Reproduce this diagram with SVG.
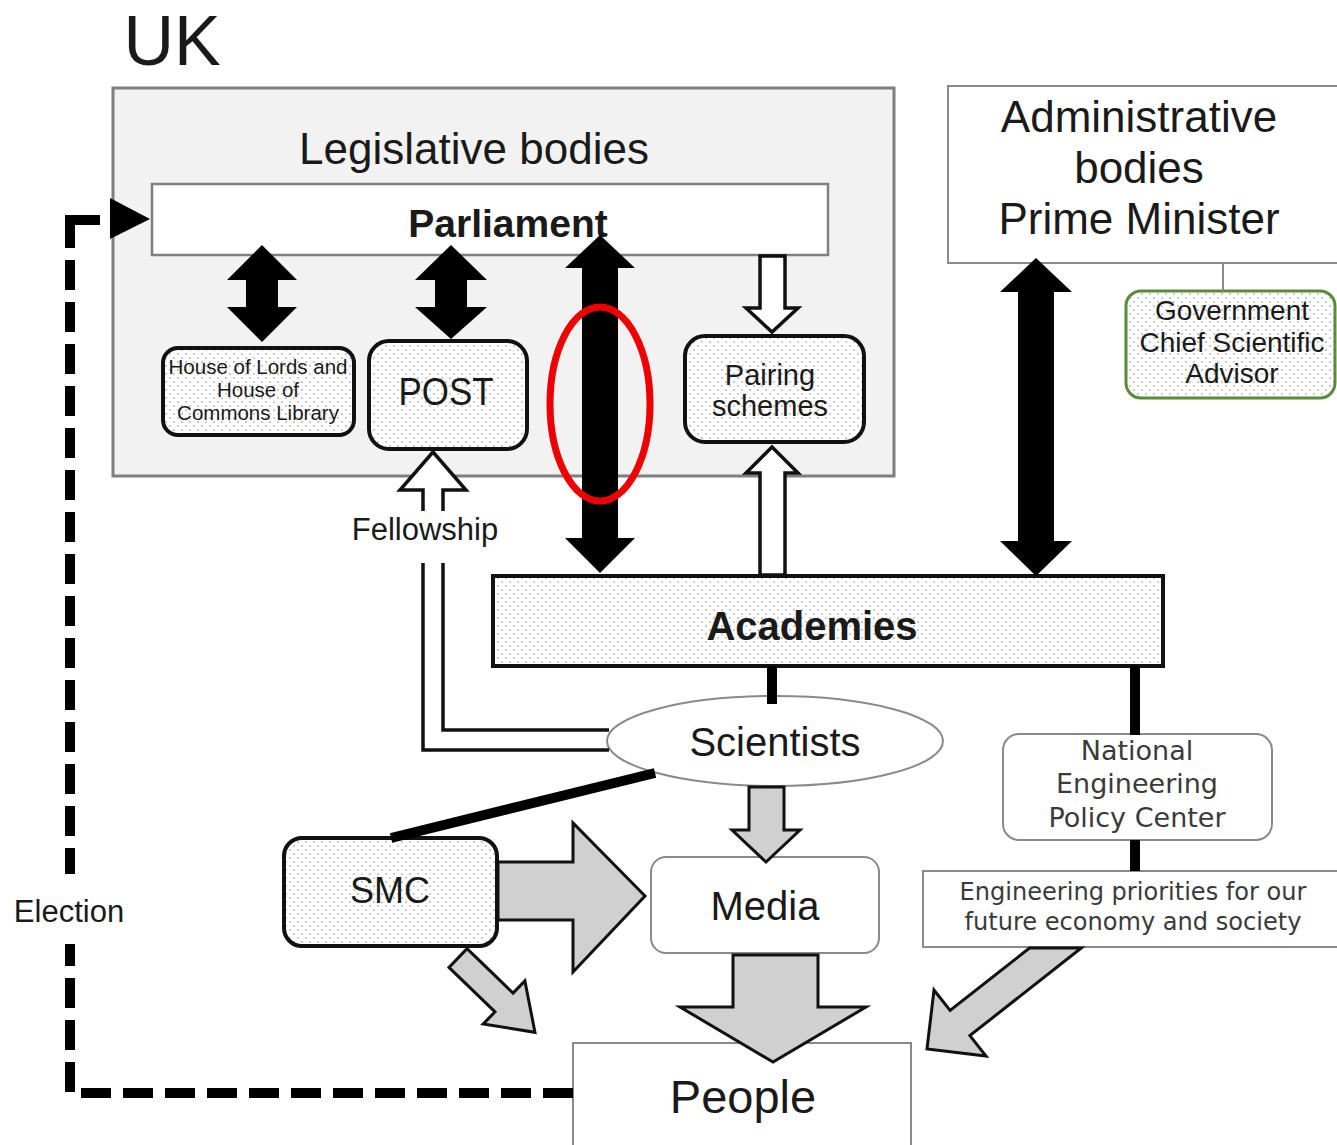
<svg xmlns="http://www.w3.org/2000/svg" width="1337" height="1145" viewBox="0 0 1337 1145">
<defs>
<pattern id="dots" width="8" height="8" patternUnits="userSpaceOnUse">
<rect width="8" height="8" fill="#fff"/>
<circle cx="2" cy="2" r="0.9" fill="#b4b4b4"/>
<circle cx="6" cy="6" r="0.9" fill="#b4b4b4"/>
</pattern>
<style>
text{font-family:"Liberation Sans",Arial,sans-serif;fill:#1a1a1a;text-anchor:middle}
.dv{font-family:"DejaVu Sans",Verdana,sans-serif;fill:#3a3a3a}
.bold{font-weight:bold}
.dotbox{fill:url(#dots);stroke:#111;stroke-width:4}
.plain{fill:#fff;stroke:#8a8a8a;stroke-width:2}
.black{fill:#000}
.gray{fill:#d0d0d0;stroke:#111;stroke-width:3;stroke-linejoin:miter}
.hollow{fill:#fff;stroke:#111;stroke-width:3.5}
.line{fill:none;stroke:#111;stroke-width:3.5}
.thick{fill:none;stroke:#000;stroke-width:10}
.dash{fill:none;stroke:#000;stroke-width:10;stroke-dasharray:30 12}
</style>
</defs>
<rect width="1337" height="1145" fill="#fff"/>

<text x="172" y="65" style="font-size:70px" fill="#000">UK</text>

<g id="legislative">
<rect x="113" y="88" width="781" height="388" fill="#f2f2f2" stroke="#7f7f7f" stroke-width="3"/>
<text x="474" y="164" style="font-size:44px">Legislative bodies</text>
</g>

<g id="parliament">
<rect x="152" y="184" width="676" height="71" fill="#fff" stroke="#7f7f7f" stroke-width="2.5"/>
<text x="508" y="237" class="bold" style="font-size:39px">Parliament</text>
</g>

<g id="library">
<rect x="163" y="348" width="191" height="87" rx="15" class="dotbox"/>
<text x="258" y="374" style="font-size:20.5px">House of Lords and</text>
<text x="258" y="397" style="font-size:20.5px">House of</text>
<text x="258" y="420" style="font-size:20.5px">Commons Library</text>
</g>

<g id="post">
<rect x="369" y="341" width="158" height="108" rx="20" class="dotbox"/>
<text x="446" y="405" style="font-size:38px" fill="#333" textLength="95" lengthAdjust="spacingAndGlyphs">POST</text>
</g>

<g id="pairing">
<rect x="685" y="336" width="179" height="106" rx="20" class="dotbox"/>
<text x="770" y="385" style="font-size:29px" fill="#333">Pairing</text>
<text x="770" y="416" style="font-size:29px" fill="#333">schemes</text>
</g>

<g id="administrative">
<rect x="948" y="86" width="392" height="177" fill="#fff" stroke="#8a8a8a" stroke-width="2"/>
<text x="1139" y="132" style="font-size:44px">Administrative</text>
<text x="1139" y="183" style="font-size:44px">bodies</text>
<text x="1139" y="234" style="font-size:44px">Prime Minister</text>
</g>

<g id="gcsa">
<rect x="1126" y="291" width="209" height="107" rx="15" fill="url(#dots)" stroke="#5b8a3a" stroke-width="3"/>
<text x="1232" y="320" style="font-size:28px">Government</text>
<text x="1232" y="352" style="font-size:28px">Chief Scientific</text>
<text x="1232" y="383" style="font-size:28px">Advisor</text>
</g>

<g id="academies">
<rect x="493" y="576" width="670" height="90" class="dotbox" stroke-width="5"/>
<text x="812" y="640" class="bold" style="font-size:40px">Academies</text>
</g>

<g id="scientists">
<ellipse cx="775" cy="741" rx="168" ry="45" fill="#fff" stroke="#8a8a8a" stroke-width="2"/>
<text x="775" y="756" style="font-size:40px">Scientists</text>
</g>

<g id="nepc">
<rect x="1003" y="734" width="269" height="106" rx="16" class="plain"/>
<text x="1137" y="760" class="dv" style="font-size:27px">National</text>
<text x="1137" y="793" class="dv" style="font-size:27px">Engineering</text>
<text x="1137" y="827" class="dv" style="font-size:27px">Policy Center</text>
</g>

<g id="priorities">
<rect x="923" y="871" width="420" height="76" class="plain"/>
<text x="1133" y="900" class="dv" style="font-size:24px" textLength="347" lengthAdjust="spacingAndGlyphs">Engineering priorities for our</text>
<text x="1133" y="930" class="dv" style="font-size:24px" textLength="337" lengthAdjust="spacingAndGlyphs">future economy and society</text>
</g>

<g id="smc">
<rect x="284" y="838" width="213" height="108" rx="18" class="dotbox"/>
<text x="390" y="903" style="font-size:36px" fill="#333">SMC</text>
</g>

<g id="media">
<rect x="651" y="857" width="228" height="96" rx="15" class="plain"/>
<text x="765" y="920" style="font-size:40px">Media</text>
</g>

<g id="people">
<rect x="573" y="1043" width="338" height="110" class="plain"/>
<text x="743" y="1113" style="font-size:47px">People</text>
</g>

<g id="election-label">
<text x="69" y="922" style="font-size:31px" fill="#222">Election</text>
</g>

<g id="connectors">
<!-- Election dashed loop -->
<path class="dash" d="M573,1093 H70 V944"/>
<path fill="none" stroke="#000" stroke-width="10" d="M100,220 H70 V248"/>
<path class="dash" d="M70,260 V874"/>
<polygon class="black" points="110,198 150,219 110,239"/>

<!-- Parliament <-> Library -->
<polygon class="black" points="262,245 297,280 278,280 278,307 297,307 262,342 227,307 246,307 246,280 227,280"/>
<!-- Parliament <-> POST -->
<polygon class="black" points="451,245 487,280 467,280 467,307 487,307 451,339 415,307 435,307 435,280 415,280"/>
<!-- Parliament <-> Academies -->
<polygon class="black" points="600,235 635,268 618,268 618,538 635,538 600,573 565,538 582,538 582,268 565,268"/>
<!-- Administrative <-> Academies -->
<polygon class="black" points="1036,258 1072,292 1054,292 1054,541 1072,541 1036,576 1000,541 1018,541 1018,292 1000,292"/>

<!-- Parliament -> Pairing (hollow) -->
<polygon class="hollow" points="760,256 785,256 785,308 798,308 772,332 746,308 760,308"/>
<!-- Academies -> Pairing (hollow) -->
<polygon class="hollow" points="760,575 785,575 785,473 798,473 772,447 746,473 760,473"/>

<!-- Fellowship: Scientists -> POST (hollow) -->
<path class="hollow" d="M423,511 V490 H400 L433,452 L466,490 H443 V511"/>
<path class="line" d="M609,750 H423 V563"/>
<path class="line" d="M609,730 H443 V563"/>

<!-- Academies - Scientists -->
<line class="thick" x1="772" y1="666" x2="772" y2="704"/>
<!-- Scientists - SMC -->
<line class="thick" x1="655" y1="773" x2="391" y2="838" stroke-width="11"/>
<!-- Academies - NEPC -->
<line class="thick" x1="1135" y1="666" x2="1135" y2="735"/>
<!-- NEPC - priorities -->
<line class="thick" x1="1135" y1="840" x2="1135" y2="871"/>
<!-- Admin - GCSA -->
<line x1="1223" y1="263" x2="1223" y2="291" stroke="#8a8a8a" stroke-width="2"/>

<!-- Scientists -> Media -->
<polygon class="gray" points="749,787 784,787 784,830 800,830 766,862 732,830 749,830"/>
<!-- SMC -> Media -->
<polygon class="gray" points="498,862 573,862 573,823 645,896 573,972 573,920 498,920"/>
<!-- SMC -> People -->
<polygon class="gray" transform="translate(458,958) rotate(44)" points="0,-13 64,-13 64,-30 107,0 64,30 64,13 0,13"/>
<!-- Media -> People -->
<polygon class="gray" points="733,955 818,955 818,1007 866,1007 773,1062 680,1007 733,1007"/>
<!-- Priorities -> People -->
<polygon class="gray" points="1029.5,948 1081.3,948 969.9,1035.6 986,1056 927,1049 934,990 950.1,1010.4"/>
</g>

<g id="fellowship-label">
<text x="425" y="540" style="font-size:31px" fill="#222">Fellowship</text>
</g>

<g id="highlight">
<ellipse cx="600" cy="404" rx="50" ry="97" fill="none" stroke="#ee0000" stroke-width="7"/>
</g>
</svg>
